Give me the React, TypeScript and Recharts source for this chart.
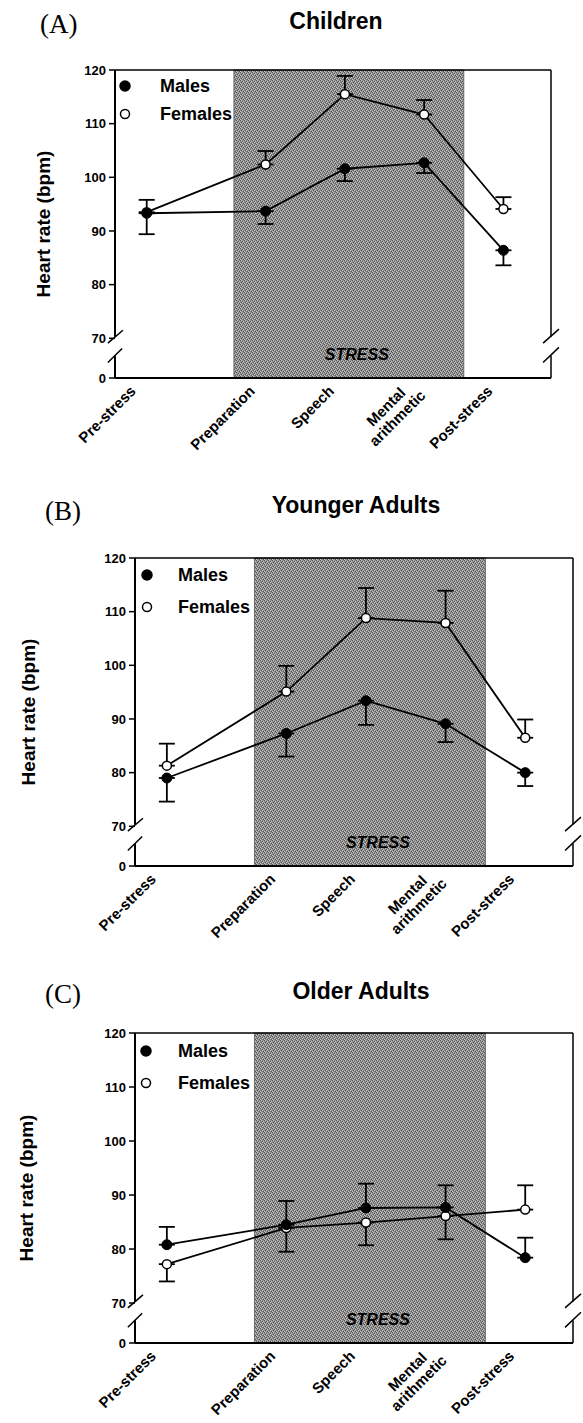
import React from "react";
import {
  ComposedChart,
  Line,
  XAxis,
  YAxis,
  ErrorBar,
  ReferenceArea,
  ReferenceLine,
} from "recharts";

// stages of the stress protocol, placed on a numeric x axis (0..5.5)
const stages = ["Pre-stress", "Preparation", "Speech", "Mental\narithmetic", "Post-stress"];
const stagePos = [0.4, 1.9, 2.9, 3.9, 4.9];
const stressWindow = [1.5, 4.4];
const yTicks = [70, 80, 90, 100, 110, 120];
const AXIS_BASE = 62.6; // bottom of the broken axis, labelled "0"

// errors are [below, above] the mean
const childMales = [93.3, 93.7, 101.6, 102.7, 86.4];
const childMalesErr = [[3.9, 0], [2.4, 0], [2.3, 0], [1.9, 0], [2.8, 0]];
const childFemales = [93.5, 102.4, 115.5, 111.7, 94.1];
const childFemalesErr = [[0, 2.3], [0, 2.5], [0, 3.4], [0, 2.7], [0, 2.2]];

const youngMales = [79.0, 87.3, 93.4, 89.1, 80.0];
const youngMalesErr = [[4.4, 0], [4.3, 0], [4.5, 0], [3.4, 0], [2.5, 0]];
const youngFemales = [81.3, 95.1, 108.8, 107.9, 86.5];
const youngFemalesErr = [[0, 4.1], [0, 4.8], [0, 5.6], [0, 6.0], [0, 3.4]];

const oldMales = [80.8, 84.5, 87.6, 87.7, 78.4];
const oldMalesErr = [[0, 3.3], [0, 4.4], [0, 4.5], [0, 4.1], [0, 3.7]];
const oldFemales = [77.2, 83.9, 84.9, 86.1, 87.3];
const oldFemalesErr = [[3.2, 0], [4.4, 0], [4.2, 0], [4.3, 0], [0, 4.5]];

const W = 583;
const SANS = "'Liberation Sans', Arial, sans-serif";
const SERIF = "'Liberation Serif', 'Times New Roman', serif";

function StageTick(props: any) {
  const { x, y, payload } = props;
  const i = stagePos.indexOf(payload.value);
  if (i < 0) return null;
  const lines = stages[i].split("\n");
  const style = { fontSize: 15, fontWeight: 700, fontFamily: SANS, fill: "#000" };
  if (lines.length === 1) {
    return (
      <text transform={`translate(${x - 10},${y + 14}) rotate(-45)`} textAnchor="end" style={style}>
        {lines[0]}
      </text>
    );
  }
  // multi-line: lines centred on each other
  const d = Math.SQRT1_2;
  const half = (Math.max(...lines.map((l) => l.length)) * 15 * 0.5) / 2;
  const cx = x - 8 - half * d;
  const cy = y + 6 + half * d;
  return (
    <g>
      {lines.map((l, k) => (
        <text
          key={k}
          transform={`translate(${cx + k * 16 * d},${cy + k * 16 * d}) rotate(-45)`}
          textAnchor="middle"
          style={style}
        >
          {l}
        </text>
      ))}
    </g>
  );
}

function stressText(props: any) {
  const vb = props.viewBox;
  if (!vb) return null;
  return (
    <text
      x={vb.x + vb.width / 2 + 8}
      y={vb.y + vb.height - 24}
      textAnchor="middle"
      dominantBaseline="central"
      style={{ fontSize: 16, fontWeight: 700, fontStyle: "italic", fontFamily: SANS, fill: "#000" }}
    >
      STRESS
    </text>
  );
}

function Panel(p: any) {
  const rows = stagePos.map((x, i) => ({
    x,
    males: p.males[i],
    malesErr: p.malesErr[i],
    females: p.females[i],
    femalesErr: p.femalesErr[i],
  }));
  const Y_W = 50;
  const X_H = 60;
  const margin = {
    top: p.plotTop - p.chartTop,
    left: p.plotLeft - Y_W,
    right: W - p.plotRight,
    bottom: p.chartTop + p.chartHeight - p.plotBottom - X_H,
  };
  const pid = "stress-" + p.id;
  const box = { stroke: "#000", strokeWidth: 2, ifOverflow: "visible" as const };
  const thin = { stroke: "#000", strokeWidth: 1.5, ifOverflow: "visible" as const };
  const xMax = 5.5;
  const plotMid = (p.plotTop + p.plotBottom) / 2;

  return (
    <>
      <div style={{ position: "absolute", left: p.letterX, top: p.letterTop, fontFamily: SERIF, fontSize: 27, lineHeight: 1 }}>
        {p.letter}
      </div>
      <div
        style={{
          position: "absolute",
          left: p.titleX,
          top: p.titleTop,
          transform: "translateX(-50%)",
          fontFamily: SANS,
          fontWeight: 700,
          fontSize: 23,
          lineHeight: 1,
          whiteSpace: "nowrap",
        }}
      >
        {p.title}
      </div>
      <div
        style={{
          position: "absolute",
          left: p.ylabelX,
          top: plotMid,
          transform: "translate(-50%, -50%) rotate(-90deg)",
          fontFamily: SANS,
          fontWeight: 700,
          fontSize: 19,
          lineHeight: 1,
          whiteSpace: "nowrap",
        }}
      >
        Heart rate (bpm)
      </div>
      <div style={{ position: "absolute", left: 0, top: p.chartTop }}>
        <ComposedChart width={W} height={p.chartHeight} data={rows} margin={margin}>
          <defs>
            <pattern id={pid} width={4} height={4} patternUnits="userSpaceOnUse">
              <rect x={0} y={0} width={4} height={4} fill="#8e8e8e" />
              <rect x={0} y={0} width={1} height={1} fill="#555555" />
              <rect x={2} y={1} width={1} height={1} fill="#555555" />
              <rect x={1} y={2} width={1} height={1} fill="#555555" />
              <rect x={3} y={3} width={1} height={1} fill="#555555" />
              <rect x={1} y={0} width={1} height={1} fill="#c4c4c4" />
              <rect x={3} y={1} width={1} height={1} fill="#c4c4c4" />
              <rect x={2} y={2} width={1} height={1} fill="#c4c4c4" />
              <rect x={0} y={3} width={1} height={1} fill="#c4c4c4" />
            </pattern>
          </defs>
          <XAxis
            dataKey="x"
            type="number"
            domain={[0, xMax]}
            ticks={stagePos}
            interval={0}
            allowDataOverflow
            height={X_H}
            axisLine={{ stroke: "#000", strokeWidth: 2 }}
            tickLine={false}
            tickSize={0}
            tickMargin={0}
            tick={<StageTick />}
          />
          <YAxis
            type="number"
            domain={[AXIS_BASE, 120]}
            ticks={[AXIS_BASE, ...yTicks]}
            interval={0}
            allowDataOverflow
            width={Y_W}
            axisLine={false}
            tickLine={{ stroke: "#000", strokeWidth: 1.5 }}
            tickSize={6}
            tickMargin={3}
            tick={{ fontSize: 13, fontWeight: 700, fill: "#000", fontFamily: SANS }}
            tickFormatter={(v: number) => (v === AXIS_BASE ? "0" : String(v))}
          />
          <ReferenceArea
            x1={stressWindow[0]}
            x2={stressWindow[1]}
            y1={AXIS_BASE}
            y2={120}
            fill={`url(#${pid}) #8c8c8c`}
            fillOpacity={1}
            stroke="#555"
            strokeWidth={0.8}
            ifOverflow="visible"
            label={stressText}
          />
          {/* frame with broken axes */}
          <ReferenceLine y={120} {...thin} />
          <ReferenceLine segment={[{ x: 0, y: 120 }, { x: 0, y: 70.3 }]} {...box} />
          <ReferenceLine segment={[{ x: 0, y: 66.8 }, { x: 0, y: AXIS_BASE }]} {...box} />
          <ReferenceLine segment={[{ x: -0.09, y: 69.1 }, { x: 0.1, y: 71.5 }]} {...thin} />
          <ReferenceLine segment={[{ x: -0.09, y: 65.5 }, { x: 0.09, y: 68.1 }]} {...thin} />
          <ReferenceLine segment={[{ x: xMax, y: 120 }, { x: xMax, y: 70.3 }]} {...thin} />
          <ReferenceLine segment={[{ x: xMax, y: 66.8 }, { x: xMax, y: AXIS_BASE }]} {...thin} />
          <ReferenceLine segment={[{ x: xMax - 0.1, y: 69.1 }, { x: xMax + 0.1, y: 71.7 }]} {...thin} />
          <ReferenceLine segment={[{ x: xMax - 0.1, y: 65.5 }, { x: xMax + 0.1, y: 68.3 }]} {...thin} />
          <Line
            dataKey="females"
            type="linear"
            stroke="#000"
            strokeWidth={1.8}
            dot={{ r: 4.5, fill: "#fff", stroke: "#000", strokeWidth: 1.5 }}
            activeDot={false}
            isAnimationActive={false}
          >
            <ErrorBar dataKey="femalesErr" direction="y" width={8} stroke="#000" strokeWidth={1.8} />
          </Line>
          <Line
            dataKey="males"
            type="linear"
            stroke="#000"
            strokeWidth={1.8}
            dot={{ r: 5, fill: "#000", stroke: "#000", strokeWidth: 1 }}
            activeDot={false}
            isAnimationActive={false}
          >
            <ErrorBar dataKey="malesErr" direction="y" width={8} stroke="#000" strokeWidth={1.8} />
          </Line>
        </ComposedChart>
      </div>
      {/* legend */}
      {[
        { name: "Males", filled: true, y: p.legendY[0] },
        { name: "Females", filled: false, y: p.legendY[1] },
      ].map((e) => (
        <React.Fragment key={e.name}>
          <svg style={{ position: "absolute", left: p.legendMarkerX - 7, top: e.y - 7 }} width={14} height={14}>
            <circle
              cx={7}
              cy={7}
              r={e.filled ? 5 : 4.5}
              fill={e.filled ? "#000" : "#fff"}
              stroke="#000"
              strokeWidth={1.5}
            />
          </svg>
          <div
            style={{
              position: "absolute",
              left: p.legendTextX,
              top: e.y,
              transform: "translateY(-50%)",
              fontFamily: SANS,
              fontWeight: 700,
              fontSize: 18,
              lineHeight: 1,
              whiteSpace: "nowrap",
            }}
          >
            {e.name}
          </div>
        </React.Fragment>
      ))}
    </>
  );
}

export default function App() {
  return (
    <div style={{ position: "absolute", left: 0, top: 0, width: W, height: 1423, background: "#fff", overflow: "hidden" }}>
      <Panel
        id="a"
        letter="(A)"
        letterX={40}
        letterTop={11}
        title="Children"
        titleX={336}
        titleTop={10}
        chartTop={0}
        chartHeight={470}
        plotLeft={115}
        plotRight={551}
        plotTop={70}
        plotBottom={378}
        ylabelX={43}
        legendMarkerX={125}
        legendTextX={160}
        legendY={[86, 114]}
        males={childMales}
        malesErr={childMalesErr}
        females={childFemales}
        femalesErr={childFemalesErr}
      />
      <Panel
        id="b"
        letter="(B)"
        letterX={45}
        letterTop={498}
        title="Younger Adults"
        titleX={356}
        titleTop={494}
        chartTop={480}
        chartHeight={480}
        plotLeft={135}
        plotRight={573}
        plotTop={558}
        plotBottom={866}
        ylabelX={28}
        legendMarkerX={147}
        legendTextX={178}
        legendY={[575, 607]}
        males={youngMales}
        malesErr={youngMalesErr}
        females={youngFemales}
        femalesErr={youngFemalesErr}
      />
      <Panel
        id="c"
        letter="(C)"
        letterX={45}
        letterTop={981}
        title="Older Adults"
        titleX={361}
        titleTop={980}
        chartTop={960}
        chartHeight={463}
        plotLeft={135}
        plotRight={573}
        plotTop={1033}
        plotBottom={1343}
        ylabelX={26}
        legendMarkerX={146}
        legendTextX={178}
        legendY={[1051, 1083]}
        males={oldMales}
        malesErr={oldMalesErr}
        females={oldFemales}
        femalesErr={oldFemalesErr}
      />
    </div>
  );
}
